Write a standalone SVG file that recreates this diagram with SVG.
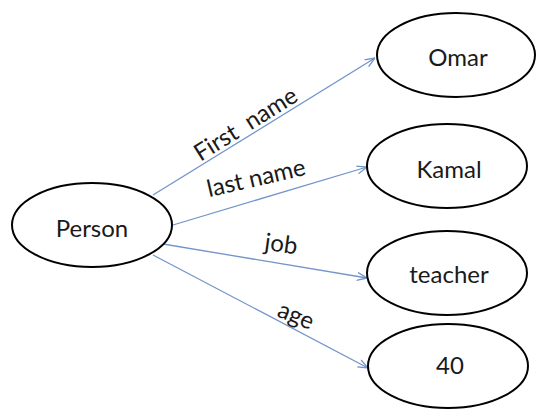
<svg xmlns="http://www.w3.org/2000/svg" width="537" height="411" viewBox="0 0 537 411">
  <style>
    .node ellipse { fill: #ffffff; stroke: #000000; stroke-width: 2; }
    .node text { font-family: Lato, "Open Sans", "Liberation Sans", sans-serif; font-size: 24px; fill: #1a1a1a; text-anchor: middle; dominant-baseline: central; }
    .edge { stroke: #7294c9; stroke-width: 1.3; fill: none; marker-end: url(#arrow); }
    .label { font-family: Lato, "Open Sans", "Liberation Sans", sans-serif; font-size: 24px; fill: #1a1a1a; text-anchor: middle; white-space: pre; }
  </style>
  <defs>
    <!-- open chevron arrowhead shared by all connectors -->
    <marker id="arrow" viewBox="0 0 10 10" refX="10" refY="5" markerWidth="10" markerHeight="10" markerUnits="userSpaceOnUse" orient="auto">
      <path d="M0,1 L10,5 L0,9" fill="none" stroke="#7294c9" stroke-width="1.3"/>
    </marker>
  </defs>
  <rect width="537" height="411" fill="#ffffff"/>

  <g id="connectors">
    <line class="edge" x1="153" y1="195" x2="375" y2="58"/>
    <line class="edge" x1="173" y1="225" x2="367" y2="167"/>
    <line class="edge" x1="157" y1="243" x2="367" y2="278"/>
    <line class="edge" x1="153" y1="255" x2="368" y2="368"/>
    <text class="label" xml:space="preserve" transform="translate(250,131) rotate(-32)">First  name</text>
    <text class="label" transform="translate(258,186) rotate(-13)">last name</text>
    <text class="label" transform="translate(280,252) rotate(8)">job</text>
    <text class="label" transform="translate(293,323) rotate(22)">age</text>
  </g>

  <g id="person" class="node">
    <ellipse cx="92" cy="225" rx="80" ry="42"/>
    <text x="92" y="227">Person</text>
  </g>
  <g id="omar" class="node">
    <ellipse cx="456" cy="55" rx="79" ry="42"/>
    <text x="458" y="56">Omar</text>
  </g>
  <g id="kamal" class="node">
    <ellipse cx="447" cy="166" rx="80" ry="42"/>
    <text x="449" y="168">Kamal</text>
  </g>
  <g id="teacher" class="node">
    <ellipse cx="447" cy="273" rx="80" ry="42"/>
    <text x="449" y="273">teacher</text>
  </g>
  <g id="age40" class="node">
    <ellipse cx="448" cy="366" rx="80" ry="42"/>
    <text x="450" y="364">40</text>
  </g>
</svg>
